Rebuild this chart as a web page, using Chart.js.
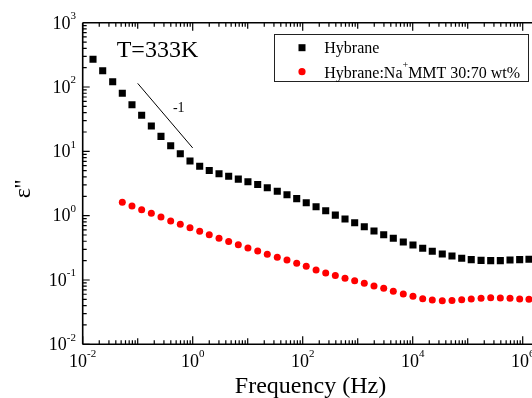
<!DOCTYPE html>
<html><head><meta charset="utf-8">
<script src="https://cdn.jsdelivr.net/npm/chart.js@4/dist/chart.umd.min.js"></script>
<style>
html,body{margin:0;padding:0;background:#fff;overflow:hidden;}
#wrap{width:532px;height:398px;overflow:hidden;position:relative;background:#fff;}
canvas{display:block;}
</style></head><body>
<div id="wrap"><canvas id="c" width="640" height="398"></canvas></div>
<script>
// ---- data ----
const frequency = [0.0154, 0.0231, 0.0351, 0.0525, 0.0787, 0.118, 0.177, 0.265, 0.398, 0.595,
  0.893, 1.34, 2.00, 3.01, 4.51, 6.75, 10.1, 15.2, 22.7, 34.5,
  51.8, 77.8, 116, 175, 262, 392, 588, 881, 1318, 1978,
  2970, 4440, 6745, 10120, 15200, 22700, 34500, 51800, 77800, 116000,
  175000, 262000, 392000, 588000, 881000, 1300000];
const hybrane = [270, 179, 121, 79.8, 53.1, 36.3, 24.8, 17.1, 12.2, 9.19,
  7.08, 5.85, 5.04, 4.47, 4.09, 3.70, 3.36, 3.05, 2.71, 2.39,
  2.12, 1.84, 1.59, 1.38, 1.19, 1.02, 0.887, 0.774, 0.673, 0.577,
  0.506, 0.445, 0.389, 0.350, 0.311, 0.279, 0.253, 0.236, 0.217, 0.207,
  0.202, 0.200, 0.200, 0.205, 0.207, 0.210];
const compositeStart = 3; // composite series begins at the 4th frequency
const composite = [1.61, 1.41, 1.24, 1.09, 0.953, 0.826, 0.734, 0.650, 0.571, 0.504,
  0.445, 0.396, 0.353, 0.314, 0.282, 0.252, 0.225, 0.205, 0.182, 0.163,
  0.143, 0.128, 0.117, 0.106, 0.0975, 0.0888, 0.0806, 0.0743, 0.0667, 0.0605,
  0.0557, 0.0512, 0.0489, 0.0476, 0.0480, 0.0493, 0.0506, 0.0519, 0.0530, 0.0525,
  0.0519, 0.0506, 0.0500];
const slopeX = [0.1, 1];
const slopeY = [114, 11.3];
const seriesLabels = ['Hybrane', 'Hybrane:Na⁺MMT 30:70 wt%'];
const xTitle = 'Frequency (Hz)';
const yTitle = "ε''";
const tempLabel = 'T=333K';
const slopeLabel = '-1';
const xLabelExps = [-2, 0, 2, 4, 6];
const yLabelExps = [-2, -1, 0, 1, 2, 3];
const xDecades = [-2, 7];
const yDecades = [-2, 3];

const SERIF = "'Liberation Serif','Times New Roman',serif";

const hybPts = frequency.map((f, i) => ({x: f, y: hybrane[i]}));
const compPts = composite.map((v, i) => ({x: frequency[i + compositeStart], y: v}));
const slopePts = slopeX.map((x, i) => ({x: x, y: slopeY[i]}));

function drawPow(ctx, base, exp, x, y, align) {
  ctx.font = '18px ' + SERIF;
  const w1 = ctx.measureText(base).width;
  ctx.font = '11px ' + SERIF;
  const e = String(exp);
  const w2 = ctx.measureText(e).width;
  const w = w1 + w2;
  let x0 = align === 'center' ? x - w / 2 : x - w;
  ctx.textAlign = 'left';
  ctx.textBaseline = 'alphabetic';
  ctx.font = '18px ' + SERIF;
  ctx.fillText(base, x0, y);
  ctx.font = '11px ' + SERIF;
  ctx.fillText(e, x0 + w1, y - 9.5);
}

const decor = {
  id: 'decor',
  afterDatasetsDraw(chart) {
    const ctx = chart.ctx, a = chart.chartArea;
    const xs = chart.scales.x, ys = chart.scales.y;
    ctx.save();
    ctx.strokeStyle = '#000';
    ctx.lineWidth = 1.6;
    ctx.beginPath();
    ctx.moveTo(a.left, a.top); ctx.lineTo(a.left, a.bottom);
    ctx.moveTo(a.left, a.bottom); ctx.lineTo(a.right, a.bottom);
    ctx.moveTo(a.left, a.top); ctx.lineTo(a.right, a.top);
    ctx.moveTo(a.right, a.top); ctx.lineTo(a.right, a.bottom);
    ctx.stroke();
    ctx.lineWidth = 1.2;
    ctx.beginPath();
    for (let d = xDecades[0]; d < xDecades[1]; d++) {
      for (let m = 1; m <= 9; m++) {
        const px = xs.getPixelForValue(m * Math.pow(10, d));
        let len = 4;
        if (m === 1) len = xLabelExps.includes(d) ? 8 : 6;
        ctx.moveTo(px, a.bottom); ctx.lineTo(px, a.bottom - len);
        ctx.moveTo(px, a.top); ctx.lineTo(px, a.top + len);
      }
    }
    for (let d = yDecades[0]; d < yDecades[1]; d++) {
      for (let m = 1; m <= 9; m++) {
        const py = ys.getPixelForValue(m * Math.pow(10, d));
        const len = m === 1 ? 7 : 4;
        ctx.moveTo(a.left, py); ctx.lineTo(a.left + len, py);
        ctx.moveTo(a.right, py); ctx.lineTo(a.right - len, py);
      }
    }
    ctx.stroke();
    ctx.restore();
  },
  afterDraw(chart) {
    const ctx = chart.ctx, a = chart.chartArea;
    const xs = chart.scales.x, ys = chart.scales.y;
    ctx.save();
    ctx.fillStyle = '#000';
    // tick labels
    xLabelExps.forEach(e => {
      const px = xs.getPixelForValue(Math.pow(10, e));
      drawPow(ctx, '10', e, px, a.bottom + 22.4, 'center');
    });
    yLabelExps.forEach(e => {
      const py = ys.getPixelForValue(Math.pow(10, e));
      drawPow(ctx, '10', e, a.left - 6.7, py + 5.8, 'right');
    });
    // axis titles
    ctx.font = '24px ' + SERIF;
    ctx.textAlign = 'center';
    ctx.textBaseline = 'alphabetic';
    ctx.fillText(xTitle, 310.5, 393);
    ctx.save();
    ctx.translate(30, 189);
    ctx.rotate(-Math.PI / 2);
    ctx.fillText(yTitle, 0, 0);
    ctx.restore();
    // annotations at data positions
    ctx.textAlign = 'left';
    ctx.fillText(tempLabel, xs.getPixelForValue(0.0415), ys.getPixelForValue(290));
    ctx.font = '14px ' + SERIF;
    ctx.textAlign = 'center';
    ctx.textBaseline = 'middle';
    ctx.fillText(slopeLabel, xs.getPixelForValue(0.557), ys.getPixelForValue(46.7));
    // legend
    ctx.lineWidth = 1;
    ctx.strokeStyle = '#222';
    ctx.strokeRect(274.5, 34.5, 254, 47);
    ctx.fillStyle = '#000';
    ctx.fillRect(298.5, 44.2, 7, 7);
    ctx.fillStyle = '#ff0000';
    ctx.beginPath(); ctx.arc(302, 71.7, 3.6, 0, Math.PI * 2); ctx.fill();
    ctx.fillStyle = '#000';
    ctx.textAlign = 'left';
    ctx.textBaseline = 'alphabetic';
    ctx.font = '16px ' + SERIF;
    ctx.fillText(seriesLabels[0], 324.3, 53.3);
    const parts = seriesLabels[1].split('⁺');
    let tx = 324.3;
    ctx.fillText(parts[0], tx, 77.7);
    tx += ctx.measureText(parts[0]).width;
    ctx.font = '10px ' + SERIF;
    ctx.fillText('+', tx, 67.5);
    tx += ctx.measureText('+').width;
    ctx.font = '16px ' + SERIF;
    ctx.fillText(parts[1], tx, 77.7);
    ctx.restore();
  }
};

new Chart(document.getElementById('c'), {
  type: 'scatter',
  data: {
    datasets: [
      {label: seriesLabels[0], data: hybPts, pointStyle: 'rect', pointRadius: 5, pointBackgroundColor: '#000', pointBorderWidth: 0, showLine: false},
      {label: seriesLabels[1], data: compPts, pointStyle: 'circle', pointRadius: 3.5, pointBackgroundColor: '#ff0000', pointBorderWidth: 0, showLine: false},
      {label: 'slope', data: slopePts, showLine: true, pointRadius: 0, borderColor: '#000', borderWidth: 1, fill: false}
    ]
  },
  options: {
    responsive: false,
    animation: false,
    devicePixelRatio: 1,
    layout: {padding: {left: 82.7, top: 22.7, right: 62.3, bottom: 53.7}},
    plugins: {legend: {display: false}, tooltip: {enabled: false}},
    scales: {
      x: {type: 'logarithmic', min: 0.01, max: 1e7, display: false},
      y: {type: 'logarithmic', min: 0.01, max: 1000, display: false}
    }
  },
  plugins: [decor]
});
</script>
</body></html>
